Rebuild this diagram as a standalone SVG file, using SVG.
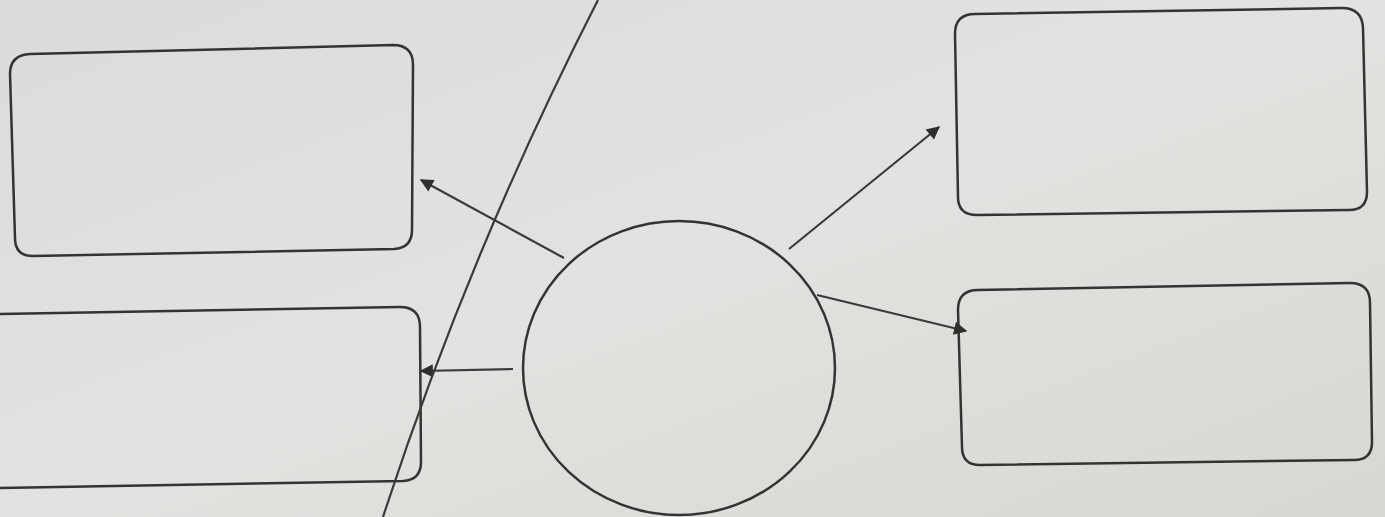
<svg xmlns="http://www.w3.org/2000/svg" width="1385" height="517" viewBox="0 0 1385 517">
  <style>
    .box { fill: none; stroke: #333; stroke-width: 2.5; stroke-linejoin: round; }
    .conn { fill: none; stroke: #3a3a3a; stroke-width: 2.2; }
  </style>
  <defs>
    <linearGradient id="bg" x1="0" y1="0" x2="1" y2="1">
      <stop offset="0" stop-color="#d9dcd8"/>
      <stop offset="0.5" stop-color="#e1e3e0"/>
      <stop offset="1" stop-color="#d6d8d4"/>
    </linearGradient>
    <marker id="arr" viewBox="0 0 10 10" refX="9" refY="5" markerWidth="7" markerHeight="6" orient="auto" markerUnits="strokeWidth">
      <path d="M0,0 L10,5 L0,10 z" fill="#2e2e2e"/>
    </marker>
  </defs>
  <rect width="1385" height="517" fill="url(#bg)"/>

  <g id="box-top-left">
    <path class="box" d="M30,54 L393,45 Q413,45 413,65 L412,230 Q412,248 394,249 L33,256 Q15,256 15,238 L10,74 Q10,55 30,54 Z"/>
  </g>
  <g id="box-bottom-left">
    <path class="box" d="M-5,314 L400,307 Q420,307 420,327 L421,462 Q421,480 403,481 L-5,488"/>
  </g>
  <g id="box-top-right">
    <path class="box" d="M975,14 L1342,8 Q1362,8 1363,28 L1367,192 Q1367,210 1349,210 L977,215 Q958,215 958,197 L955,34 Q955,14 975,14 Z"/>
  </g>
  <g id="box-bottom-right">
    <path class="box" d="M978,290 L1350,283 Q1370,283 1370,303 L1372,442 Q1372,460 1354,460 L980,465 Q962,465 962,447 L958,310 Q958,290 978,290 Z"/>
  </g>
  <g id="center-circle">
    <ellipse class="box" cx="679" cy="368" rx="156" ry="147"/>
  </g>

  <g id="connectors">
    <line class="conn" x1="564" y1="258" x2="421" y2="180" marker-end="url(#arr)"/>
    <line class="conn" x1="513" y1="369" x2="421" y2="371" marker-end="url(#arr)"/>
    <line class="conn" x1="789" y1="249" x2="939" y2="127" marker-end="url(#arr)"/>
    <line class="conn" x1="817" y1="295" x2="966" y2="331" marker-end="url(#arr)"/>
    <path class="conn" d="M598,0 Q470,250 383,517"/>
  </g>
</svg>
